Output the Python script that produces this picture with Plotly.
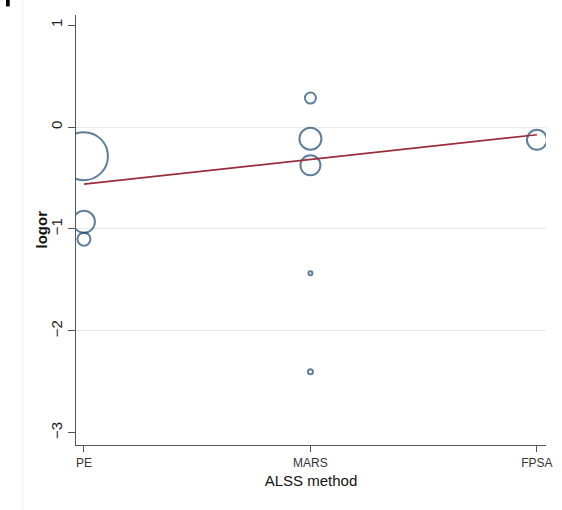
import plotly.graph_objects as go

# ---- data ----
categories = ["PE", "MARS", "FPSA"]
cat_index = [0, 1, 2]
study_method = [0, 0, 0, 1, 1, 1, 1, 1, 2]
study_logor = [-0.285, -0.93, -1.10, 0.285, -0.115, -0.375, -1.435, -2.40, -0.125]
study_weight = [48, 22, 13, 11, 22, 20, 4, 5, 20]
fit_x = [0, 2]
fit_y = [-0.56, -0.075]
y_ticks = [1, 0, -1, -2, -3]
grid_vals = [0, -1, -2]

NAVY = "#1a476f"
MAROON = "#9a2d3c"
FONT = "Liberation Sans, Arial, sans-serif"

fig = go.Figure()

fig.add_trace(go.Scatter(
    x=study_method, y=study_logor, mode="markers",
    marker=dict(symbol="circle-open", size=study_weight, color=NAVY,
                line=dict(width=2, color=NAVY)),
    showlegend=False, hoverinfo="x+y"))

fig.add_trace(go.Scatter(
    x=fit_x, y=fit_y, mode="lines",
    line=dict(color=MAROON, width=1.7),
    showlegend=False))

# invisible trace to attach grid axis
fig.add_trace(go.Scatter(x=[None], y=[None], yaxis="y2", showlegend=False))

yrange = [-3.12, 1.1]
fig.update_layout(
    width=562, height=510,
    margin=dict(l=76, r=10, t=15, b=65),
    paper_bgcolor="white", plot_bgcolor="white",
    font=dict(family=FONT, color="#222"),
    xaxis=dict(
        range=[-0.035, 2.04], tickvals=cat_index, ticktext=categories,
        ticks="outside", ticklen=6, tickcolor="#555", tickwidth=1,
        showline=True, linecolor="#555", linewidth=1.2, showgrid=False,
        zeroline=False, tickfont=dict(size=12, family=FONT, color="#333"),
        title=dict(text="ALSS method", font=dict(size=15, family=FONT, color="#111"),
                   standoff=6)),
    yaxis=dict(
        range=yrange, tickvals=y_ticks, ticks="outside", ticklen=7,
        tickcolor="#555", tickwidth=1, tickangle=-90,
        showline=True, linecolor="#555", linewidth=1.2, showgrid=False,
        zeroline=False, tickfont=dict(size=15, family=FONT, color="#222")),
    yaxis2=dict(
        range=yrange, overlaying="y", tickvals=grid_vals, showgrid=True,
        gridcolor="#e8e8e8", gridwidth=1, showticklabels=False, ticks="",
        zeroline=False, showline=False, side="left"),
    annotations=[
        dict(text="<b>logor</b>", xref="paper", yref="paper", x=0, y=0.5,
             xanchor="right", yanchor="middle", xshift=-25, textangle=-90,
             showarrow=False, font=dict(size=15, family=FONT, color="#111")),
    ],
    shapes=[
        dict(type="line", xref="paper", yref="paper", x0=-0.113, x1=-0.113,
             y0=-0.15, y1=1.04, line=dict(color="#f0f0f0", width=1), layer="below"),
        dict(type="rect", xref="paper", yref="paper", x0=-0.149, x1=-0.141,
             y0=1.02, y1=1.035, fillcolor="black", line=dict(width=0)),
    ],
)

fig.write_html("out.html")
